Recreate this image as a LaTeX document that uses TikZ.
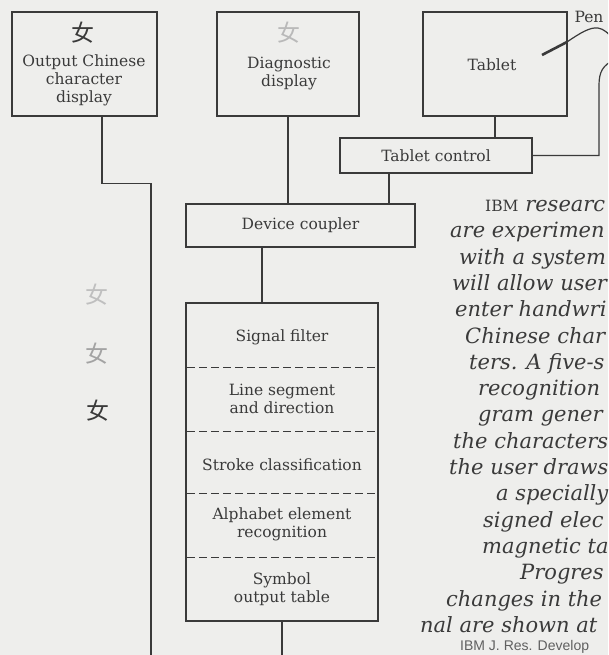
\documentclass[tikz,border=0pt]{standalone}
\usepackage{fontspec}
\setmainfont{DejaVu Serif}
\newfontfamily\cjk{Noto Sans CJK SC}
\newfontfamily\footsans{Liberation Sans}
\definecolor{paper}{RGB}{238,238,236}
\definecolor{ink}{RGB}{58,58,58}
\tikzset{
  box/.style={draw=ink, line width=1.2pt, inner sep=0pt},
  wire/.style={draw=ink, line width=1.2pt},
  sep/.style={draw=ink, line width=1pt, dash pattern=on 8pt off 4pt, shorten <=2pt, shorten >=2pt},
  lbl/.style={text=ink, align=center, inner sep=0pt, font=\fontsize{15.5}{18}\selectfont},
  glyph/.style={inner sep=0pt, font=\cjk\fontsize{23}{23}\selectfont},
  capline/.style={text=ink, anchor=base west, inner sep=0pt, font=\itshape\fontsize{21}{24}\selectfont},
}

\begin{document}
\begin{tikzpicture}[x=1pt, y=-1pt]
\useasboundingbox (0,0) rectangle (608,655);
\fill[paper] (0,0) rectangle (608,655);
\clip (0,0) rectangle (608,655);

% top row of boxes
\node[box, minimum width=145pt, minimum height=104pt] (out) at (84.5,64) {};
\node[box, minimum width=142pt, minimum height=104pt] (diag) at (288,64) {};
\node[box, minimum width=144pt, minimum height=104pt] (tablet) at (495,64) {};
\node[glyph, text=ink] (outchar) at (83,33) {女};
\node[lbl] (outtxt) at (84,80.5) {Output Chinese\\character\\display};
\node[glyph, text=gray!55] (diagchar) at (289,33) {女};
\node[lbl] (diagtxt) at (289,74) {Diagnostic\\display};
\node[lbl] (tablettxt) at (492,65) {Tablet};
\node[lbl] (pen) at (589,17) {Pen};

% control and coupler
\node[box, lbl, minimum width=192pt, minimum height=35pt] (tctrl) at (436,155.5) {Tablet control};
\node[box, lbl, minimum width=229pt, minimum height=43pt] (coupler) at (300.5,225.5) {Device coupler};

% recognition program
\node[box, minimum width=192pt, minimum height=318pt] (pipe) at (282,462) {};
\foreach \y/\t [count=\k] in {337/{Signal filter}, 399/{Line segment\\and direction}, 465/{Stroke classification}, 524/{Alphabet element\\recognition}, 589/{Symbol\\output table}}
  \node[lbl] (stage\k) at (282,\y) {\t};
\foreach \y in {367,431,493,557}
  \draw[sep] (pipe.west |- 0,\y) -- (pipe.east |- 0,\y);

% signal stages at left
\node[glyph, text=gray!50] (raw) at (97,295) {女};
\node[glyph, text=gray!72] (mid) at (97,354) {女};
\node[glyph, text=ink] (final) at (98,411) {女};

% connectors
\coordinate (busend) at (151,665);
\coordinate (pipeend) at (282,665);
\coordinate (tcfoot) at ([xshift=-47pt]tctrl.south);
\coordinate (cpfoot) at ([xshift=-38.5pt]coupler.south);
\draw[wire] ([xshift=17.5pt]out.south) -- ++(0,67) -| (busend);
\draw[wire] (diag.south) -- (diag.south |- coupler.north);
\draw[wire] (tablet.south) -- (tablet.south |- tctrl.north);
\draw[wire] (tcfoot) -- (tcfoot |- coupler.north);
\draw[wire] (cpfoot) -- (cpfoot |- pipe.north);
\draw[wire] (pipe.south) -- (pipeend);

% pen and cable
\coordinate (pentip) at (542,55);
\coordinate (penend) at (567,42);
\draw[ink, line width=2.6pt] (pentip) -- (penend);
\draw[wire] (penend) .. controls (580,33) and (590,27) .. (598,28) .. controls (604,29) and (608,33) .. (614,40);
\draw[wire] (tctrl.east) -| (599,85) .. controls (599,72) and (603,65) .. (614,60);

% caption, as far as the page shows it
\foreach \x/\t [count=\k] in {
  485/{{\upshape\fontsize{15.5}{15}\selectfont IBM} researc},
  450/{are experimen},
  459/{with a system},
  452/{will allow user},
  455/{enter handwri},
  465/{Chinese char},
  469/{ters. A five-s},
  478/{recognition},
  478/{gram gener},
  453/{the characters},
  449/{the user draws},
  496/{a specially},
  483/{signed elec},
  482/{magnetic ta},
  520/{Progres},
  446/{changes in the},
  420/{nal are shown at}}
  \node[capline] (cap\k) at (\x,{211.5+26.3*(\k-1)}) {\t};
\node[anchor=base west, inner sep=0pt, text=gray!75!black, font=\footsans\fontsize{14}{15}\selectfont] (journal) at (460,650.5) {IBM J. Res. Develop};
\end{tikzpicture}
\end{document}
